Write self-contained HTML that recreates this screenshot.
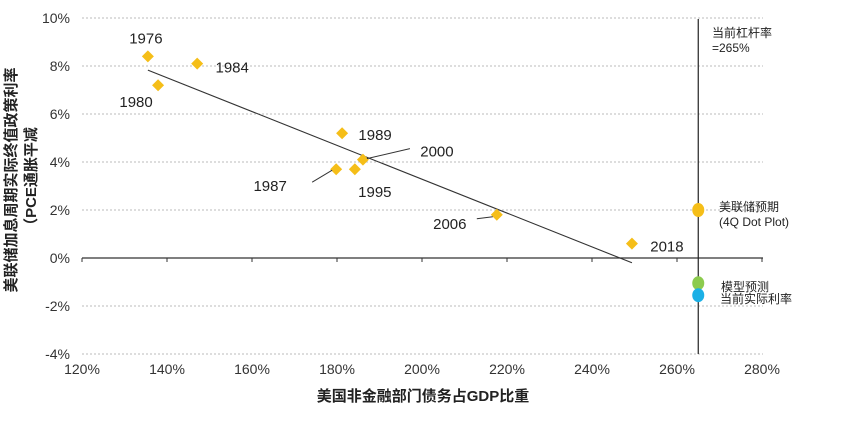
<!DOCTYPE html>
<html><head><meta charset="utf-8"><style>
html,body{margin:0;padding:0;background:#fff;}
svg{display:block;font-family:"Liberation Sans","Noto Sans CJK SC",sans-serif;}
</style></head><body>
<svg id="chart" width="842" height="421" viewBox="0 0 842 421">
<g id="grid"></g>
<g id="yticks"></g>
<g id="xticks"></g>
<g id="axis"></g>
<g id="marks"></g>
<text x="16" y="180" transform="rotate(-90 16 180)" text-anchor="middle" font-size="15" font-weight="bold" fill="#222">美联储加息周期实际终值政策利率</text>
<text x="36" y="180" transform="rotate(-90 36 180)" text-anchor="middle" font-size="15" font-weight="bold" fill="#222">（PCE通胀平减</text>
<text x="423" y="401" text-anchor="middle" font-size="15" font-weight="bold" fill="#222">美国非金融部门债务占GDP比重</text>
<text x="712" y="37" font-size="12" fill="#222">当前杠杆率</text>
<text x="712" y="52" font-size="12" fill="#222">=265%</text>
<text x="719" y="211" font-size="12" fill="#222">美联储预期</text>
<text x="719" y="226" font-size="12" fill="#222">(4Q Dot Plot)</text>
<text x="721" y="291" font-size="12" fill="#222">模型预测</text>
<text x="720" y="303" font-size="12" fill="#222">当前实际利率</text>
</svg>
<script>
const years=["1976","1984","1980","1989","2000","1987","1995","2006","2018"];
const debtRatio=[135.5,147.1,137.9,181.2,186.1,179.8,184.2,217.6,249.4];
const realRate=[8.4,8.1,7.2,5.2,4.1,3.7,3.7,1.8,0.6];
const trendX=[135.5,249.4];
const trendY=[7.83,-0.2];
const currentX=265;
const markerVals=[2.0,-1.05,-1.55];
const markerNames=["fed-projection-dot","model-forecast-dot","current-real-rate-dot"];
const markerColors=["#F5BE18","#8CCB4E","#1BB0E6"];
const xTicks=[120,140,160,180,200,220,240,260,280];
const yTicks=[10,8,6,4,2,0,-2,-4];
const labelOff=[[-2,-18],[35,4],[-22,17],[33,2],[74,-8],[-66,17],[20,23],[-47,9],[35,3]];
const leaders=[null,null,null,null,[[4,-1],[47,-11]],[[-4,1],[-24,13]],null,[[-4,2],[-20,4]],null];

const NS="http://www.w3.org/2000/svg";
const X=v=>82+(v-120)*4.25;
const Y=v=>258-v*24;
function mk(t,a,p){const e=document.createElementNS(NS,t);for(const k in a)e.setAttribute(k,a[k]);p.appendChild(e);return e;}
const grid=document.getElementById('grid'),yt=document.getElementById('yticks'),xt=document.getElementById('xticks'),ax=document.getElementById('axis'),mg=document.getElementById('marks');
yTicks.forEach(v=>{
  if(v!==0){const l=mk('line',{x1:82,x2:763,y1:Y(v),y2:Y(v),stroke:'#bbb','stroke-dasharray':'2,2','stroke-width':1},grid);
  
  }
  const t=mk('text',{x:70,y:Y(v)+5,'text-anchor':'end','font-size':14,fill:'#333'},yt);t.textContent=v+'%';
  
  
});
xTicks.forEach(v=>{
  const t=mk('text',{x:X(v),y:374,'text-anchor':'middle','font-size':14,fill:'#333'},xt);t.textContent=v+'%';
  
  
  const k=mk('line',{x1:X(v),x2:X(v),y1:Y(0),y2:Y(0)+4,stroke:'#333'},ax);
  
  
});
const zl=mk('line',{x1:82,x2:763,y1:Y(0),y2:Y(0),stroke:'#333','stroke-width':1.2},ax);


const vl=mk('line',{x1:X(currentX),x2:X(currentX),y1:19,y2:Y(-4),stroke:'#222','stroke-width':1.2},ax);


const tl=mk('line',{x1:X(trendX[0]),y1:Y(trendY[0]),x2:X(trendX[1]),y2:Y(trendY[1]),stroke:'#333','stroke-width':1.1},mg);


years.forEach((yr,i)=>{
  const cx=X(debtRatio[i]),cy=Y(realRate[i]);
  const d=mk('path',{d:`M${cx},${cy-6}L${cx+6},${cy}L${cx},${cy+6}L${cx-6},${cy}Z`,fill:'#F5BE18'},mg);
  
  
  const o=labelOff[i];
  const t=mk('text',{x:cx+o[0],y:cy+o[1]+5,'text-anchor':'middle','font-size':15,fill:'#222'},mg);t.textContent=yr;
  
  
  if(leaders[i]){const L=leaders[i];const ll=mk('line',{x1:cx+L[0][0],y1:cy+L[0][1],x2:cx+L[1][0],y2:cy+L[1][1],stroke:'#333'},mg);
  
  }
});
markerVals.forEach((v,i)=>{
  const e=mk('ellipse',{cx:X(currentX),cy:Y(v),rx:6,ry:7,fill:markerColors[i]},mg);
  
  
});
</script>
</body></html>
